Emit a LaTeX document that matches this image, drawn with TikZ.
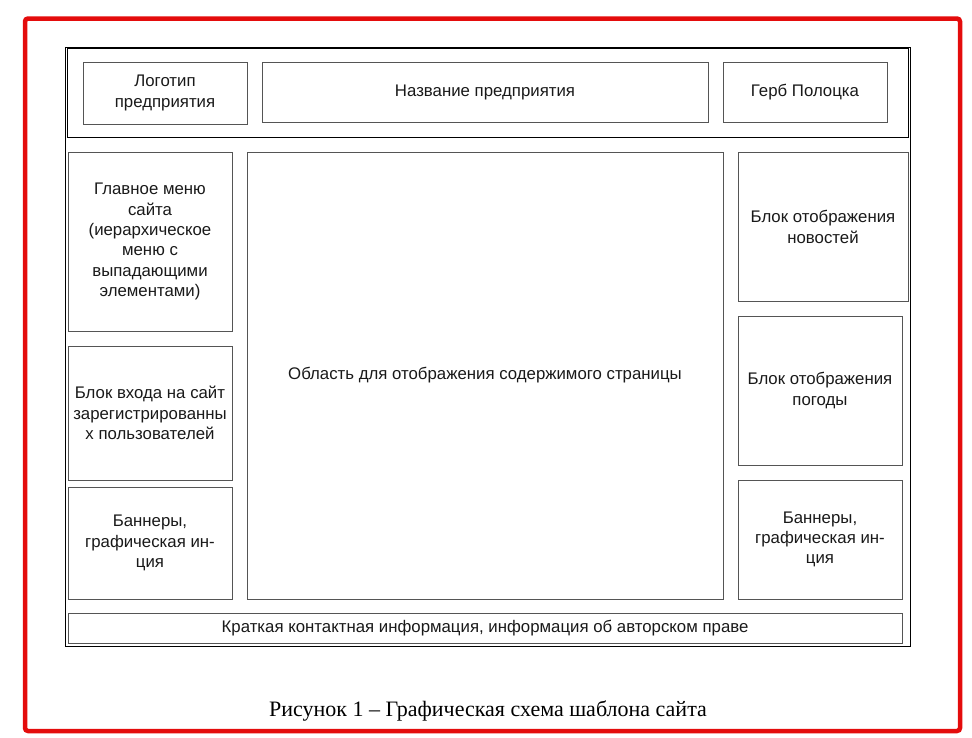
\documentclass[tikz,border=0pt]{standalone}
\usepackage{fontspec}
\setmainfont{Liberation Serif}
\setsansfont{Liberation Sans}
\usetikzlibrary{positioning}

\definecolor{frameRed}{RGB}{228,12,12}
\definecolor{boxGray}{RGB}{85,85,85}

\begin{document}
\begin{tikzpicture}[x=1pt,y=-1pt,
    blk/.style={draw=boxGray, line width=1pt, inner sep=0pt, align=center,
        font=\sffamily\fontsize{16.8}{20.3}\selectfont, text=black!90},
    wh/.style 2 args={minimum width=#1pt, minimum height=#2pt}]

    \useasboundingbox (0,0) rectangle (972,737);
    \draw[frameRed, line width=4.5pt, rounded corners=3pt] (25,18.5) rectangle (960,731);

    % page frame and header strip
    \draw[black, line width=0.8pt] (65,47) rectangle (910,646);
    \node[draw=black, line width=0.8pt, wh={841}{89}] (header) at (487.5,92.5) {};

    \node[blk, wh={164}{62}] (logo) at (165,93) {Логотип\\предприятия};
    \node[blk, wh={446}{60}] (title) at (485,92) {Название предприятия};
    \node[blk, wh={164}{60}] (gerb) at (805,92) {Герб Полоцка};

    % left column
    \node[blk, wh={164}{179}] (menu) at (150,241.5)
        {Главное меню\\сайта\\(иерархическое\\меню с\\выпадающими\\элементами)};
    \node[blk, wh={164}{134}] (login) at (150,413)
        {Блок входа на сайт\\зарегистрированны\\х пользователей};
    \node[blk, wh={164}{112}] (banL) at (150,543)
        {Баннеры,\\графическая ин-\\ция};

    % content area
    \node[blk, wh={476}{447}] (content) at (485,375.5)
        {Область для отображения содержимого страницы};

    % right column
    \node[blk, wh={170}{149.5}] (news) at (823,227) {Блок отображения\\новостей};
    \node[blk, wh={164}{149}] (weather) at (820,390.5) {Блок отображения\\погоды};
    \node[blk, wh={164}{119}] (banR) at (820,539.5)
        {Баннеры,\\графическая ин-\\ция};

    \node[blk, wh={834}{30}] (footer) at (485,628.5)
        {Краткая контактная информация, информация об авторском праве};

    \node[font=\rmfamily\fontsize{22}{26}\selectfont] (caption) at (488,711)
        {Рисунок 1 – Графическая схема шаблона сайта};

\end{tikzpicture}
\end{document}
